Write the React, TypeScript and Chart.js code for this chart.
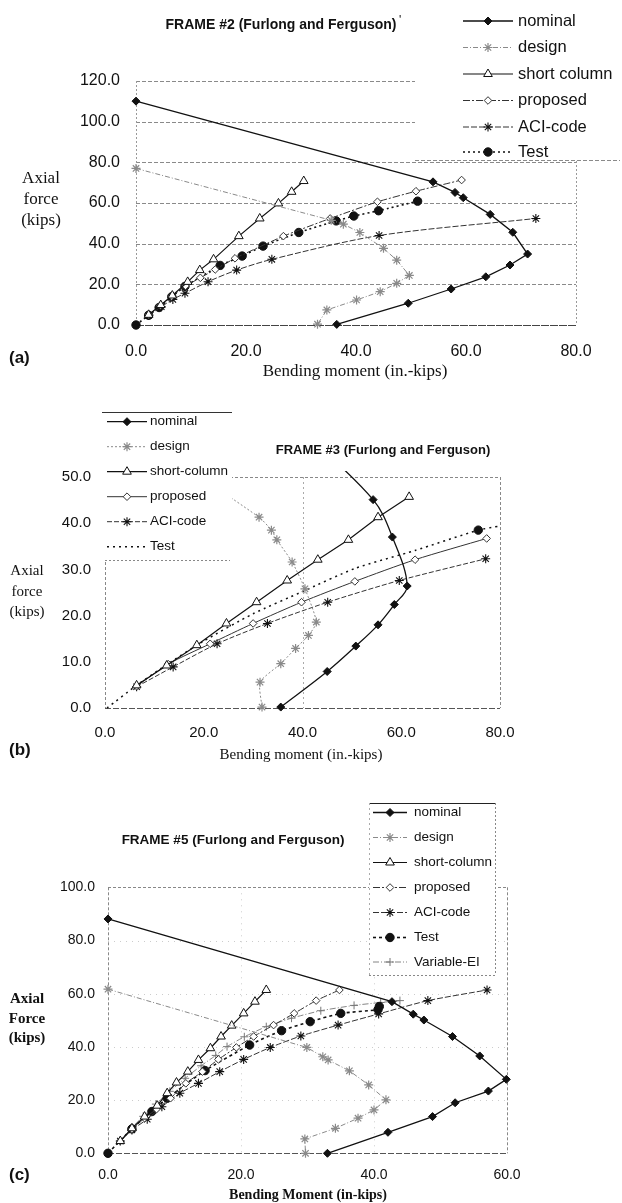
import React, { useEffect, useRef } from "react";
import { Chart, registerables } from "chart.js";
import { drawPoint } from "chart.js/helpers";

Chart.register(...registerables);

const SANS = '"Liberation Sans", Arial, Helvetica, sans-serif';
const SERIF = '"Liberation Serif", "Times New Roman", Times, serif';

// ---------------- Panel (a): FRAME #2 ----------------
const A_X_TICKS = [0, 20, 40, 60, 80];
const A_Y_TICKS = [0, 20, 40, 60, 80, 100, 120];
const A_LABELS = ["nominal", "design", "short column", "proposed", "ACI-code", "Test"];
const A_NOMINAL = [[0, 110.1], [54.0, 70.4], [58.0, 65.2], [59.5, 62.6], [64.4, 54.4], [68.5, 45.6], [71.2, 34.9], [68.0, 29.5], [63.6, 23.7], [57.3, 17.7], [49.5, 10.7], [36.5, 0.3]];
const A_DESIGN = [[0, 77.0], [35.5, 51.5], [37.7, 49.6], [40.7, 45.5], [45.0, 37.7], [47.4, 31.9], [49.7, 24.4], [47.4, 20.5], [44.4, 16.4], [40.1, 12.3], [34.7, 7.4], [33.0, 0.4]];
const A_SHORT = [[2.3, 5.0], [4.5, 9.8], [6.6, 14.5], [9.4, 21.2], [11.6, 27.0], [14.1, 32.3], [18.7, 43.7], [22.5, 52.4], [25.9, 59.8], [28.3, 65.5], [30.5, 70.8]];
const A_PROPOSED = [[2.3, 5.0], [4.4, 9.6], [6.5, 14.0], [9.0, 19.2], [11.7, 23.2], [14.4, 27.3], [18.0, 32.8], [26.8, 43.7], [35.3, 52.4], [43.9, 60.6], [50.9, 65.8], [59.2, 71.3]];
const A_ACI = [[2.3, 4.7], [4.6, 9.0], [6.7, 12.6], [8.9, 15.6], [13.1, 21.3], [18.3, 27.0], [24.7, 32.3], [44.2, 44.0], [72.7, 52.4]];
const A_TEST = [[0, 0], [2.3, 4.8], [4.2, 8.6], [6.5, 13.9], [8.9, 19.0], [15.3, 29.3], [19.3, 33.9], [23.1, 38.8], [29.6, 45.5], [36.4, 51.2], [39.6, 53.6], [44.1, 56.2], [51.2, 60.9]];

// ---------------- Panel (b): FRAME #3 ----------------
const B_X_TICKS = [0, 20, 40, 60, 80];
const B_Y_TICKS = [0, 10, 20, 30, 40, 50];
const B_LABELS = ["nominal", "design", "short-column", "proposed", "ACI-code", "Test"];
const B_NOMINAL = [[35.6, 0.2], [45.0, 7.9], [50.8, 13.4], [55.3, 18.0], [58.6, 22.4], [61.2, 26.4], [58.2, 37.0], [54.3, 45.1], [40.0, 60.0]];
const B_DESIGN = [[0, 64.0], [31.2, 41.3], [33.7, 38.5], [34.8, 36.4], [37.9, 31.6], [40.5, 25.8], [42.8, 18.6], [41.2, 15.7], [38.6, 12.9], [35.6, 9.6], [31.4, 5.6], [31.8, 0.2]];
const B_SHORT = [[6.4, 4.9], [12.5, 9.2], [18.6, 13.6], [24.6, 18.3], [30.7, 22.9], [36.9, 27.6], [43.1, 32.1], [49.3, 36.4], [55.3, 41.3], [61.6, 45.7]];
const B_PROPOSED = [[6.4, 4.7], [12.8, 9.5], [21.3, 13.9], [30.0, 18.3], [39.8, 22.9], [50.6, 27.4], [62.8, 32.1], [77.3, 36.7]];
const B_ACI = [[6.4, 4.6], [13.8, 8.9], [22.7, 13.9], [32.9, 18.3], [45.1, 22.9], [59.6, 27.6], [77.1, 32.3]];
const B_TEST = [[0.4, 0], [6.4, 4.9], [12.5, 9.4], [20.0, 14.5], [30.0, 20.4], [40.0, 25.2], [50.6, 30.2], [62.8, 34.1], [75.6, 38.5], [80.0, 39.4]];
const B_TEST_DOT = [[75.6, 38.5]];

// ---------------- Panel (c): FRAME #5 ----------------
const C_X_TICKS = [0, 20, 40, 60];
const C_Y_TICKS = [0, 20, 40, 60, 80, 100];
const C_LABELS = ["nominal", "design", "short-column", "proposed", "ACI-code", "Test", "Variable-EI"];
const C_NOMINAL = [[0, 88.1], [42.7, 57.0], [45.9, 52.3], [47.5, 50.1], [51.8, 43.9], [55.9, 36.6], [59.9, 27.8], [57.2, 23.4], [52.2, 19.0], [48.8, 13.8], [42.1, 7.9], [33.0, 0]];
const C_DESIGN = [[0, 61.7], [29.9, 39.8], [32.3, 36.3], [33.1, 35.1], [36.3, 31.0], [39.2, 25.7], [41.8, 20.1], [40.0, 16.3], [37.6, 13.2], [34.2, 9.4], [29.6, 5.4], [29.7, 0]];
const C_SHORT = [[1.85, 4.6], [3.6, 9.4], [5.5, 13.8], [7.4, 17.9], [8.9, 22.6], [10.3, 26.6], [12.0, 30.7], [13.6, 35.1], [15.4, 39.5], [17.0, 43.9], [18.6, 48.0], [20.4, 52.6], [22.1, 57.0], [23.8, 61.4]];
const C_PROPOSED = [[1.85, 4.6], [3.6, 9.0], [5.5, 13.2], [7.3, 16.6], [9.4, 20.7], [11.7, 26.3], [14.2, 30.7], [16.6, 35.3], [19.3, 39.8], [21.9, 43.9], [24.9, 48.2], [28.0, 52.6], [31.3, 57.4], [34.8, 61.4]];
const C_ACI = [[1.85, 4.6], [3.6, 8.8], [5.9, 12.8], [8.1, 17.5], [10.8, 22.6], [13.6, 26.3], [16.8, 30.7], [20.4, 35.3], [24.4, 39.8], [29.0, 44.1], [34.6, 48.2], [40.7, 52.4], [48.1, 57.4], [57.0, 61.4]];
const C_TEST = [[0, 0], [3.6, 9.2], [6.6, 15.7], [8.9, 20.7], [14.6, 31.1], [21.3, 40.7], [26.1, 46.1], [30.4, 49.5], [35.0, 52.6], [40.6, 54.0], [40.8, 55.2]];
const C_VAREI = [[1.85, 4.6], [3.5, 9.4], [5.3, 13.9], [7.2, 18.5], [9.3, 23.3], [11.6, 28.2], [14.0, 32.9], [16.2, 36.8], [17.9, 40.1], [20.5, 43.8], [23.8, 47.6], [27.6, 50.8], [32.0, 53.6], [37.0, 55.6], [41.0, 56.7], [43.9, 57.4]];

// ---------------- styles ----------------
const ST: Record<string, any> = {
  nominal: { borderColor: "#111", borderWidth: 1.3, pointStyle: "rectRot", pointRadius: 4, pointBackgroundColor: "#111", pointBorderColor: "#111", pointBorderWidth: 1 },
  design: { borderColor: "#8a8a8a", borderWidth: 1, borderDash: [5, 2, 1, 2], pointStyle: "star", pointRadius: 4.5, pointBackgroundColor: "rgba(0,0,0,0)", pointBorderColor: "#8a8a8a", pointBorderWidth: 1.2 },
  short: { borderColor: "#111", borderWidth: 1.2, pointStyle: "triangle", pointRadius: 5, pointBackgroundColor: "#fff", pointBorderColor: "#111", pointBorderWidth: 1 },
  proposed: { borderColor: "#333", borderWidth: 1, borderDash: [7, 2, 2, 2], pointStyle: "rectRot", pointRadius: 3.8, pointBackgroundColor: "#fff", pointBorderColor: "#333", pointBorderWidth: 1 },
  aci: { borderColor: "#333", borderWidth: 1, borderDash: [6, 2], pointStyle: "star", pointRadius: 4.5, pointBackgroundColor: "rgba(0,0,0,0)", pointBorderColor: "#111", pointBorderWidth: 1.1 },
  test: { borderColor: "#111", borderWidth: 1.6, borderDash: [2, 3], pointStyle: "circle", pointRadius: 4.2, pointBackgroundColor: "#111", pointBorderColor: "#111", pointBorderWidth: 1 },
  vei: { borderColor: "#777", borderWidth: 0.9, borderDash: [6, 2, 1, 2], pointStyle: "cross", pointRadius: 4, pointBackgroundColor: "rgba(0,0,0,0)", pointBorderColor: "#777", pointBorderWidth: 1 },
};

function mk(label: string, pts: number[][], style: any, extra: any = {}) {
  return {
    label,
    data: pts.map((p) => ({ x: p[0], y: p[1] })),
    showLine: true,
    fill: false,
    clip: 6,
    tension: 0,
    ...style,
    pointHoverRadius: style.pointRadius,
    ...extra,
  };
}

function strokeLine(ctx: CanvasRenderingContext2D, x1: number, y1: number, x2: number, y2: number, g: any) {
  ctx.save();
  ctx.strokeStyle = g.color;
  ctx.lineWidth = g.w || 1;
  ctx.setLineDash(g.dash || []);
  ctx.beginPath();
  ctx.moveTo(x1, y1);
  ctx.lineTo(x2, y2);
  ctx.stroke();
  ctx.restore();
}

function makeDecor(cfg: any) {
  return {
    id: "decor",
    beforeDatasetsDraw(chart: any) {
      const { ctx, chartArea: a, scales } = chart;
      (cfg.hLines || []).forEach((g: any) => {
        const py = Math.round(scales.y.getPixelForValue(g.v)) + 0.5;
        strokeLine(ctx, a.left, py, a.right, py, g);
      });
      (cfg.vLines || []).forEach((g: any) => {
        const px = Math.round(scales.x.getPixelForValue(g.v)) + 0.5;
        strokeLine(ctx, px, a.top, px, a.bottom, g);
      });
    },
    afterDraw(chart: any) {
      const ctx: CanvasRenderingContext2D = chart.ctx;
      const L = cfg.legend;
      if (L) {
        ctx.save();
        ctx.fillStyle = "#fff";
        ctx.fillRect(L.box.x, L.box.y, L.box.w, L.box.h);
        ctx.restore();
        (L.borders || []).forEach((b: any) => strokeLine(ctx, b.x1, b.y1, b.x2, b.y2, b));
        L.items.forEach((it: any, i: number) => {
          const d = chart.data.datasets[it.ds];
          const y = L.rows[i];
          ctx.save();
          ctx.strokeStyle = d.borderColor;
          ctx.lineWidth = d.borderWidth;
          ctx.setLineDash(d.borderDash || []);
          ctx.beginPath();
          ctx.moveTo(L.x1, y);
          ctx.lineTo(L.x2, y);
          ctx.stroke();
          if (it.marker !== false) {
            ctx.setLineDash([]);
            ctx.fillStyle = d.pointBackgroundColor;
            ctx.strokeStyle = d.pointBorderColor;
            ctx.lineWidth = d.pointBorderWidth;
            drawPoint(ctx, { pointStyle: d.pointStyle, radius: d.pointRadius, rotation: 0, borderWidth: d.pointBorderWidth } as any, (L.x1 + L.x2) / 2, y);
          }
          ctx.fillStyle = "#111";
          ctx.font = L.font;
          ctx.textAlign = "left";
          ctx.textBaseline = "middle";
          ctx.fillText(it.label, L.tx, y);
          ctx.restore();
        });
      }
      (cfg.texts || []).forEach((t: any) => {
        ctx.save();
        ctx.fillStyle = t.color || "#111";
        ctx.font = t.font;
        ctx.textAlign = t.align || "center";
        ctx.textBaseline = "middle";
        ctx.fillText(t.t, t.x, t.y);
        ctx.restore();
      });
    },
  };
}

function makeConfig(p: any) {
  const tickFont = { family: SANS, size: p.tickSize };
  return {
    type: "scatter",
    data: { datasets: p.datasets },
    options: {
      responsive: false,
      maintainAspectRatio: false,
      animation: false,
      events: [],
      layout: { padding: { left: 0, top: p.area.top, right: 622 - p.area.right, bottom: 0 } },
      plugins: { legend: { display: false }, tooltip: { enabled: false }, title: { display: false } },
      scales: {
        x: {
          type: "linear",
          min: p.xMin,
          max: p.xMax,
          afterBuildTicks: (s: any) => { s.ticks = p.xTicks.map((v: number) => ({ value: v })); },
          afterFit: (s: any) => { s.height = p.h - p.area.bottom; },
          grid: { display: false, drawTicks: false },
          border: { display: false },
          ticks: { font: tickFont, color: "#111", padding: p.xPad, maxRotation: 0, autoSkip: false, callback: (v: any) => Number(v).toFixed(1) },
        },
        y: {
          type: "linear",
          min: p.yMin,
          max: p.yMax,
          afterBuildTicks: (s: any) => { s.ticks = p.yTicks.map((v: number) => ({ value: v })); },
          afterFit: (s: any) => { s.width = p.area.left; },
          grid: { display: false, drawTicks: false },
          border: { display: false },
          ticks: { font: tickFont, color: "#111", padding: p.yPad, autoSkip: false, callback: (v: any) => Number(v).toFixed(1) },
        },
      },
    },
    plugins: [makeDecor(p.decor)],
  };
}

const PANEL_A = {
  h: 390,
  area: { left: 136, right: 576, top: 81, bottom: 325 },
  xMin: 0, xMax: 80, yMin: 0, yMax: 120,
  xTicks: A_X_TICKS, yTicks: A_Y_TICKS,
  tickSize: 16, xPad: 17, yPad: 16,
  datasets: [
    mk(A_LABELS[0], A_NOMINAL, ST.nominal),
    mk(A_LABELS[1], A_DESIGN, ST.design),
    mk(A_LABELS[2], A_SHORT, ST.short),
    mk(A_LABELS[3], A_PROPOSED, ST.proposed, { tension: 0.15 }),
    mk(A_LABELS[4], A_ACI, ST.aci, { tension: 0.3 }),
    mk(A_LABELS[5], A_TEST, ST.test, { tension: 0.15 }),
  ],
  decor: {
    hLines: [
      ...[20, 40, 60, 80, 100, 120].map((v) => ({ v, color: "#8a8a8a", dash: [4, 2], w: 1 })),
      { v: 0, color: "#444", dash: [8, 1], w: 1.2 },
    ],
    vLines: [
      { v: 0, color: "#999", dash: [2, 2], w: 1 },
      { v: 80, color: "#999", dash: [2, 2], w: 1 },
    ],
    legend: {
      box: { x: 415, y: 0, w: 207, h: 160 },
      borders: [
        { x1: 415, y1: 160.5, x2: 620, y2: 160.5, color: "#8a8a8a", dash: [4, 2], w: 1 },
      ],
      x1: 463, x2: 513, tx: 518,
      rows: [21, 47.5, 74, 100.5, 127, 152],
      font: `16.5px ${SANS}`,
      items: A_LABELS.map((label, i) => ({ ds: i, label })),
    },
    texts: [
      { t: "FRAME #2 (Furlong and Ferguson)", x: 281, y: 25, font: `bold 14px ${SANS}` },
      { t: "'", x: 399, y: 21, font: `12px ${SANS}`, align: "left" },
      { t: "Axial", x: 41, y: 179, font: `17px ${SERIF}` },
      { t: "force", x: 41, y: 200, font: `17px ${SERIF}` },
      { t: "(kips)", x: 41, y: 221, font: `17px ${SERIF}` },
      { t: "Bending moment (in.-kips)", x: 355, y: 372, font: `17px ${SERIF}` },
      { t: "(a)", x: 9, y: 358, font: `bold 17px ${SANS}`, align: "left" },
    ],
  },
};

const PANEL_B = {
  h: 385,
  area: { left: 105, right: 500, top: 92, bottom: 323 },
  xMin: 0, xMax: 80, yMin: 0, yMax: 50,
  xTicks: B_X_TICKS, yTicks: B_Y_TICKS,
  tickSize: 15, xPad: 16, yPad: 14,
  datasets: [
    mk(B_LABELS[0], B_NOMINAL, ST.nominal, { tension: 0.35 }),
    mk(B_LABELS[1], B_DESIGN, ST.design, { borderDash: [2, 2], tension: 0.2 }),
    mk(B_LABELS[2], B_SHORT, ST.short),
    mk(B_LABELS[3], B_PROPOSED, ST.proposed, { borderDash: [], tension: 0.25 }),
    mk(B_LABELS[4], B_ACI, ST.aci, { borderDash: [5, 2], tension: 0.25 }),
    mk(B_LABELS[5], B_TEST, ST.test, { borderDash: [2, 4], borderWidth: 1.5, pointRadius: 0, tension: 0.2 }),
    mk("Test point", B_TEST_DOT, ST.test, { showLine: false }),
  ],
  decor: {
    hLines: [
      { v: 50, color: "#888", dash: [3, 2], w: 1 },
      { v: 0, color: "#555", dash: [6, 2], w: 1 },
    ],
    vLines: [
      { v: 0, color: "#888", dash: [3, 2], w: 1 },
      { v: 40, color: "#aaa", dash: [2, 3], w: 1 },
      { v: 80, color: "#888", dash: [3, 2], w: 1 },
    ],
    legend: {
      box: { x: 102, y: 27, w: 130, h: 148 },
      borders: [
        { x1: 102, y1: 27.5, x2: 232, y2: 27.5, color: "#333", w: 1 },
        { x1: 105, y1: 175.5, x2: 230, y2: 175.5, color: "#888", dash: [2, 2], w: 1 },
      ],
      x1: 107, x2: 147, tx: 150,
      rows: [36.7, 61.7, 86.7, 111.7, 136.7, 161.7],
      font: `13.5px ${SANS}`,
      items: B_LABELS.map((label, i) => ({ ds: i, label, marker: i !== 5 })),
    },
    texts: [
      { t: "FRAME #3 (Furlong and Ferguson)", x: 383, y: 65, font: `bold 13px ${SANS}` },
      { t: "Axial", x: 27, y: 186, font: `15px ${SERIF}` },
      { t: "force", x: 27, y: 207, font: `15px ${SERIF}` },
      { t: "(kips)", x: 27, y: 227, font: `15px ${SERIF}` },
      { t: "Bending moment (in.-kips)", x: 301, y: 370, font: `15px ${SERIF}` },
      { t: "(b)", x: 9, y: 365, font: `bold 17px ${SANS}`, align: "left" },
    ],
  },
};

const PANEL_C = {
  h: 443,
  area: { left: 108, right: 507, top: 127.3, bottom: 393.3 },
  xMin: 0, xMax: 60, yMin: 0, yMax: 100,
  xTicks: C_X_TICKS, yTicks: C_Y_TICKS,
  tickSize: 14, xPad: 13, yPad: 13,
  datasets: [
    mk(C_LABELS[0], C_NOMINAL, ST.nominal),
    mk(C_LABELS[1], C_DESIGN, ST.design),
    mk(C_LABELS[2], C_SHORT, ST.short),
    mk(C_LABELS[3], C_PROPOSED, ST.proposed, { tension: 0.2 }),
    mk(C_LABELS[4], C_ACI, ST.aci, { tension: 0.2 }),
    mk(C_LABELS[5], C_TEST, ST.test, { tension: 0.2, borderDash: [3, 3] }),
    mk(C_LABELS[6], C_VAREI, ST.vei, { tension: 0.2 }),
  ],
  decor: {
    hLines: [
      ...[20, 40, 60, 80].map((v) => ({ v, color: "rgba(0,0,0,0.2)", dash: [1, 5], w: 1 })),
      { v: 100, color: "#888", dash: [3, 2], w: 1 },
      { v: 0, color: "#555", dash: [6, 2], w: 1 },
    ],
    vLines: [
      ...[20, 40].map((v) => ({ v, color: "rgba(0,0,0,0.2)", dash: [1, 5], w: 1 })),
      { v: 0, color: "#888", dash: [3, 2], w: 1 },
      { v: 60, color: "#888", dash: [3, 2], w: 1 },
    ],
    legend: {
      box: { x: 369, y: 43, w: 126, h: 172 },
      borders: [
        { x1: 369, y1: 43.5, x2: 495, y2: 43.5, color: "#222", w: 1 },
        { x1: 495.5, y1: 43, x2: 495.5, y2: 215, color: "#888", dash: [2, 2], w: 1 },
        { x1: 369, y1: 215.5, x2: 495, y2: 215.5, color: "#888", dash: [2, 2], w: 1 },
        { x1: 369.5, y1: 43, x2: 369.5, y2: 215, color: "#aaa", dash: [2, 3], w: 1 },
      ],
      x1: 373, x2: 407, tx: 414,
      rows: [52.5, 77.5, 102.5, 127.5, 152.5, 177.5, 202],
      font: `13.5px ${SANS}`,
      items: C_LABELS.map((label, i) => ({ ds: i, label })),
    },
    texts: [
      { t: "FRAME #5 (Furlong and Ferguson)", x: 233, y: 80, font: `bold 13.5px ${SANS}` },
      { t: "Axial", x: 27, y: 239, font: `bold 15px ${SERIF}` },
      { t: "Force", x: 27, y: 259, font: `bold 15px ${SERIF}` },
      { t: "(kips)", x: 27, y: 278, font: `bold 15px ${SERIF}` },
      { t: "Bending Moment (in-kips)", x: 308, y: 435, font: `bold 14px ${SERIF}` },
      { t: "(c)", x: 9, y: 415, font: `bold 17px ${SANS}`, align: "left" },
    ],
  },
};

export default function App() {
  const ra = useRef<HTMLCanvasElement>(null);
  const rb = useRef<HTMLCanvasElement>(null);
  const rc = useRef<HTMLCanvasElement>(null);

  useEffect(() => {
    const charts = [
      new Chart(ra.current as HTMLCanvasElement, makeConfig(PANEL_A) as any),
      new Chart(rb.current as HTMLCanvasElement, makeConfig(PANEL_B) as any),
      new Chart(rc.current as HTMLCanvasElement, makeConfig(PANEL_C) as any),
    ];
    return () => charts.forEach((c) => c.destroy());
  }, []);

  const cs = (top: number, h: number): React.CSSProperties => ({ position: "absolute", left: 0, top, width: 622, height: h });

  return (
    <div style={{ position: "absolute", left: 0, top: 0, width: 622, height: 1203, overflow: "hidden", background: "#fff" }}>
      <canvas ref={ra} width={622} height={390} style={cs(0, 390)} />
      <canvas ref={rb} width={622} height={385} style={cs(385, 385)} />
      <canvas ref={rc} width={622} height={443} style={cs(760, 443)} />
    </div>
  );
}
